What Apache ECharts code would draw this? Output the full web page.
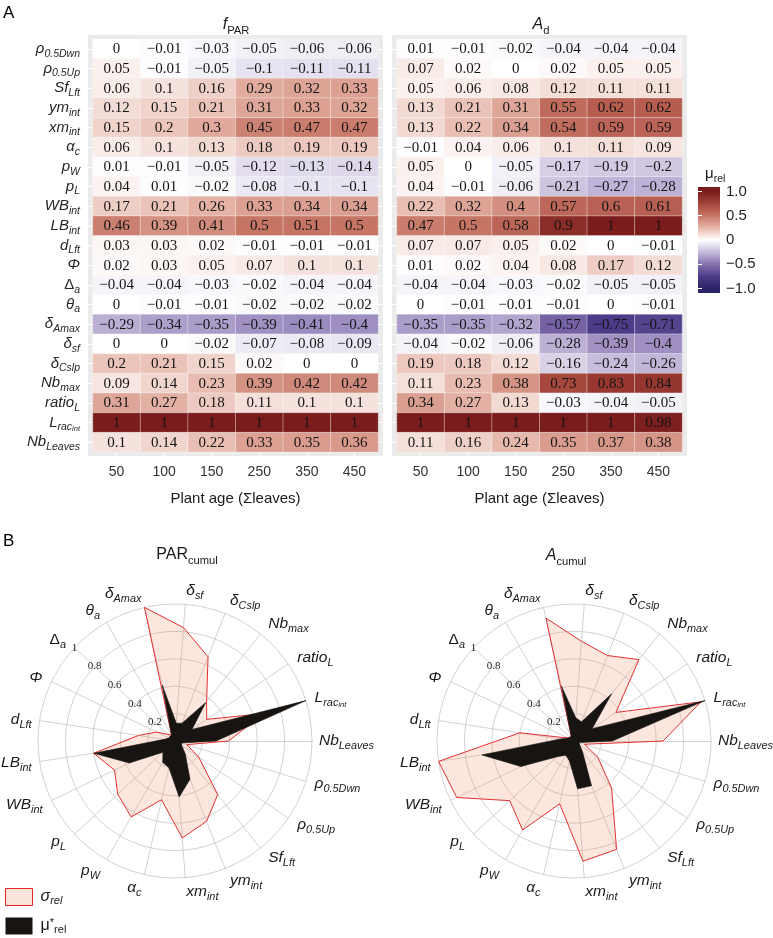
<!DOCTYPE html>
<html><head><meta charset="utf-8">
<script src="https://cdn.jsdelivr.net/npm/echarts@6/dist/echarts.min.js"></script>
<style>html,body{margin:0;padding:0;background:#fff}#c{width:773px;height:938px}</style>
</head><body><div id="c"></div>
<script>
// ---------- DATA ----------
const ages = ['50', '100', '150', '250', '350', '450'];
// heatmap rows, top to bottom
const params = [
  '{i|ρ}{si|0.5Dwn}', '{i|ρ}{si|0.5Up}', '{i|Sf}{si|Lft}', '{i|ym}{si|int}', '{i|xm}{si|int}',
  '{i|α}{si|c}', '{i|p}{si|W}', '{i|p}{si|L}', '{i|WB}{si|int}', '{i|LB}{si|int}',
  '{i|d}{si|Lft}', '{i|Φ}', '{u|Δ}{si|a}', '{i|θ}{si|a}', '{i|δ}{si|Amax}',
  '{i|δ}{si|sf}', '{i|δ}{si|Cslp}', '{i|Nb}{si|max}', '{i|ratio}{si|L}', '{i|L}{si|rac}{ssi|int}',
  '{i|Nb}{si|Leaves}'
];
const fparValues = [
  [0, -0.01, -0.03, -0.05, -0.06, -0.06],
  [0.05, -0.01, -0.05, -0.1, -0.11, -0.11],
  [0.06, 0.1, 0.16, 0.29, 0.32, 0.33],
  [0.12, 0.15, 0.21, 0.31, 0.33, 0.32],
  [0.15, 0.2, 0.3, 0.45, 0.47, 0.47],
  [0.06, 0.1, 0.13, 0.18, 0.19, 0.19],
  [0.01, -0.01, -0.05, -0.12, -0.13, -0.14],
  [0.04, 0.01, -0.02, -0.08, -0.1, -0.1],
  [0.17, 0.21, 0.26, 0.33, 0.34, 0.34],
  [0.46, 0.39, 0.41, 0.5, 0.51, 0.5],
  [0.03, 0.03, 0.02, -0.01, -0.01, -0.01],
  [0.02, 0.03, 0.05, 0.07, 0.1, 0.1],
  [-0.04, -0.04, -0.03, -0.02, -0.04, -0.04],
  [0, -0.01, -0.01, -0.02, -0.02, -0.02],
  [-0.29, -0.34, -0.35, -0.39, -0.41, -0.4],
  [0, 0, -0.02, -0.07, -0.08, -0.09],
  [0.2, 0.21, 0.15, 0.02, 0, 0],
  [0.09, 0.14, 0.23, 0.39, 0.42, 0.42],
  [0.31, 0.27, 0.18, 0.11, 0.1, 0.1],
  [1, 1, 1, 1, 1, 1],
  [0.1, 0.14, 0.22, 0.33, 0.35, 0.36]
];
const adValues = [
  [0.01, -0.01, -0.02, -0.04, -0.04, -0.04],
  [0.07, 0.02, 0, 0.02, 0.05, 0.05],
  [0.05, 0.06, 0.08, 0.12, 0.11, 0.11],
  [0.13, 0.21, 0.31, 0.55, 0.62, 0.62],
  [0.13, 0.22, 0.34, 0.54, 0.59, 0.59],
  [-0.01, 0.04, 0.06, 0.1, 0.11, 0.09],
  [0.05, 0, -0.05, -0.17, -0.19, -0.2],
  [0.04, -0.01, -0.06, -0.21, -0.27, -0.28],
  [0.22, 0.32, 0.4, 0.57, 0.6, 0.61],
  [0.47, 0.5, 0.58, 0.9, 1, 1],
  [0.07, 0.07, 0.05, 0.02, 0, -0.01],
  [0.01, 0.02, 0.04, 0.08, 0.17, 0.12],
  [-0.04, -0.04, -0.03, -0.02, -0.05, -0.05],
  [0, -0.01, -0.01, -0.01, 0, -0.01],
  [-0.35, -0.35, -0.32, -0.57, -0.75, -0.71],
  [-0.04, -0.02, -0.06, -0.28, -0.39, -0.4],
  [0.19, 0.18, 0.12, -0.16, -0.24, -0.26],
  [0.11, 0.23, 0.38, 0.73, 0.83, 0.84],
  [0.34, 0.27, 0.13, -0.03, -0.04, -0.05],
  [1, 1, 1, 1, 1, 0.98],
  [0.11, 0.16, 0.24, 0.35, 0.37, 0.38]
];
// radar values, counter-clockwise from east (Nb_Leaves, L_rac_int, ratio_L, ... , rho_0.5Dwn)
const sigmaPar = [0.39, 0.68, 0.28, 0.37, 0.66, 0.83, 1.0, 0.05, 0.07, 0.15, 0.27, 0.6, 0.49, 0.57, 0.64, 0.44, 0.71, 0.63, 0.5, 0.21, 0.09];
const muPar    = [0.3, 1.0, 0.15, 0.36, 0.14, 0.13, 0.42, 0.05, 0.05, 0.05, 0.08, 0.6, 0.37, 0.12, 0.18, 0.2, 0.41, 0.3, 0.12, 0.06, 0.05];
const sigmaA   = [0.65, 0.97, 0.37, 0.76, 0.67, 0.73, 0.92, 0.04, 0.04, 0.05, 0.4, 1.0, 0.95, 0.64, 0.75, 0.47, 0.88, 0.85, 0.44, 0.21, 0.08];
const muA      = [0.28, 1.0, 0.16, 0.44, 0.15, 0.17, 0.41, 0.04, 0.04, 0.05, 0.1, 0.68, 0.43, 0.17, 0.12, 0.15, 0.35, 0.35, 0.1, 0.05, 0.04];
const legendBreaks = [-1, -0.5, 0, 0.5, 1];
const paletteBreaks = [-1, -0.75, -0.5, -0.25, 0, 0.25, 0.5, 0.75, 1];
const paletteColors = ['#2b2466', '#4d3a88', '#8472b0', '#c4b9da', '#ffffff', '#e6b6a9', '#c67565', '#a4443a', '#7a1c1c'];

// ---------- STYLE HELPERS ----------
const SANS = '"Liberation Sans", Arial, sans-serif';
const SERIF = '"Liberation Serif", "Times New Roman", serif';
function rich(size, color, lh) {
  const sub = Math.round(size * 0.7 * 10) / 10;
  const L = lh || size + 6;
  const base = { fontFamily: SANS, color: color, fill: color };
  return {
    i: Object.assign({}, base, { fontStyle: 'italic', fontSize: size, lineHeight: L }),
    u: Object.assign({}, base, { fontStyle: 'normal', fontSize: size, lineHeight: L }),
    si: Object.assign({}, base, { fontStyle: 'italic', fontSize: sub, verticalAlign: 'bottom', lineHeight: size * 0.75 - (size + 6 - L) }),
    su: Object.assign({}, base, { fontStyle: 'normal', fontSize: sub, verticalAlign: 'bottom', lineHeight: size * 0.75 - (size + 6 - L) }),
    ssi: Object.assign({}, base, { fontStyle: 'italic', fontSize: size * 0.5, verticalAlign: 'bottom', lineHeight: 4 }),
    sp: Object.assign({}, base, { fontStyle: 'normal', fontSize: sub, verticalAlign: 'top', lineHeight: size * 0.7 - (size + 6 - L) })
  };
}
const fmt = v => String(v).replace('-', '\u2212');

// ---------- HEATMAP ----------
function renderCell(params, api) {
  const c = api.value(0), r = api.value(1), v = api.value(2);
  const a = api.coord([c - 0.5, r - 0.5]);
  const b = api.coord([c + 0.5, r + 0.5]);
  const x = Math.min(a[0], b[0]), y = Math.min(a[1], b[1]);
  const w = Math.abs(b[0] - a[0]), h = Math.abs(b[1] - a[1]);
  return {
    type: 'group',
    children: [
      { type: 'rect', shape: { x: x, y: y, width: w, height: h },
        style: { fill: api.visual('color'), stroke: 'rgba(255,255,255,0.45)', lineWidth: 0.6 } },
      { type: 'text', style: { text: fmt(v), x: x + w / 2, y: y + h / 2 + 0.5, align: 'center', verticalAlign: 'middle',
        fontSize: 15, fontFamily: SERIF, fill: '#141414' } }
    ]
  };
}
function heatData(values) {
  const d = [];
  values.forEach((row, r) => row.forEach((v, c) => d.push([c, r, v])));
  return d;
}
const colIdx = ages.map((_, i) => i);
const rowIdx = params.map((_, i) => i);

function heatX(grid) {
  return [{
    type: 'value', gridIndex: grid, min: -0.6, max: 5.6,
    axisLine: { show: false }, splitLine: { show: false },
    axisTick: { show: true, length: 4, lineStyle: { color: '#333' }, customValues: colIdx },
    axisLabel: { customValues: colIdx, formatter: v => ages[Math.round(v)], fontSize: 14, color: '#333', fontFamily: SANS, margin: 9 },
    name: 'Plant age (\u03A3leaves)', nameLocation: 'middle', nameGap: 35,
    nameTextStyle: { fontSize: 15, color: '#1a1a1a', fontFamily: SANS }
  }, {
    type: 'value', gridIndex: grid, min: -0.6, max: 5.6, position: 'top',
    axisLine: { show: false }, splitLine: { show: false }, axisLabel: { show: false },
    axisTick: { show: true, inside: true, length: 421, lineStyle: { color: '#fff', width: 1 }, customValues: colIdx }
  }];
}
function heatY(grid, labels) {
  return [{
    type: 'value', gridIndex: grid, min: -0.7, max: 20.7, inverse: true,
    axisLine: { show: false }, splitLine: { show: false },
    axisTick: { show: labels, length: 4, lineStyle: { color: '#333' }, customValues: rowIdx },
    axisLabel: { show: labels, customValues: rowIdx, formatter: v => params[Math.round(v)], margin: 8,
      rich: rich(15, '#262626') }
  }, {
    type: 'value', gridIndex: grid, min: -0.7, max: 20.7, inverse: true, position: 'right',
    axisLine: { show: false }, splitLine: { show: false }, axisLabel: { show: false },
    axisTick: { show: true, inside: true, length: 295, lineStyle: { color: '#fff', width: 1 }, customValues: rowIdx }
  }];
}

// ---------- RADAR ----------
const radarNames = params.slice().reverse();
function radarCfg(cx) {
  const n = radarNames.length;
  return {
    center: [cx, 741], radius: 137, startAngle: 0, shape: 'circle', splitNumber: 5,
    indicator: radarNames.map((nm, k) => {
      const ang = k * 2 * Math.PI / n;
      const ind = { name: nm, min: 0, max: 1, nameGap: 7 + 7 * Math.abs(Math.sin(ang)) };
      if (k === 8) {
        ind.axisLabel = { show: true, fontFamily: SERIF, fontSize: 11, color: '#222', margin: 0,
          align: 'center', verticalAlign: 'middle',
          formatter: v => (v <= 0 ? '' : (v >= 1 ? '1' : (+v).toFixed(1))) };
      }
      return ind;
    }),
    nameGap: 7,
    axisName: { color: '#1a1a1a', rich: rich(15.5, '#1a1a1a') },
    axisLine: { lineStyle: { color: '#c6c6c6', width: 0.8 } },
    splitLine: { lineStyle: { color: '#c6c6c6', width: 0.8 } },
    splitArea: { show: false },
    axisTick: { show: false },
    axisLabel: { show: false }
  };
}
function radarSeries(idx, sigma, mu) {
  return [{
    type: 'radar', radarIndex: idx, symbol: 'none', z: 2,
    lineStyle: { color: '#e3262a', width: 1 },
    areaStyle: { color: 'rgba(240,140,105,0.22)', opacity: 1 },
    itemStyle: { color: '#fbe5da' },
    data: [{ value: sigma, name: 'sigma' }]
  }, {
    type: 'radar', radarIndex: idx, symbol: 'none', z: 3,
    lineStyle: { color: '#171412', width: 0.6 },
    areaStyle: { color: '#171412', opacity: 1 },
    itemStyle: { color: '#171412' },
    data: [{ value: mu, name: 'mu' }]
  }];
}

// ---------- CHART ----------
const chart = echarts.init(document.getElementById('c'), null, { renderer: 'canvas' });
const R16 = rich(16, '#1a1a1a');
const option = {
  backgroundColor: '#fff',
  animation: false,
  grid: [
    { left: 88, top: 35, width: 295, height: 421, show: true, backgroundColor: '#ebebeb', borderWidth: 0 },
    { left: 392, top: 35, width: 295, height: 421, show: true, backgroundColor: '#ebebeb', borderWidth: 0 },
    { left: 698, top: 187, width: 22, height: 106, show: false }
  ],
  xAxis: [].concat(heatX(0), heatX(1), [{ type: 'value', gridIndex: 2, min: 0, max: 1, show: false }]),
  yAxis: [].concat(heatY(0, true), heatY(1, false), [{
    type: 'value', gridIndex: 2, min: -1.09, max: 1.09, position: 'right', z: 10,
    axisLine: { show: false }, splitLine: { show: false },
    axisTick: { show: true, inside: true, length: 4, lineStyle: { color: '#fff', width: 1 }, customValues: legendBreaks },
    axisLabel: { customValues: legendBreaks, margin: 6, fontSize: 15, color: '#1f1f1f', fontFamily: SANS,
      formatter: v => (Math.abs(v) < 1e-9 ? '0' : (v > 0 ? (+v).toFixed(1) : '\u2212' + (-v).toFixed(1))) }
  }, {
    type: 'value', gridIndex: 2, min: -1.09, max: 1.09, position: 'left', z: 10,
    axisLine: { show: false }, splitLine: { show: false }, axisLabel: { show: false },
    axisTick: { show: true, inside: true, length: 4, lineStyle: { color: '#fff', width: 1 }, customValues: legendBreaks }
  }]),
  visualMap: {
    type: 'continuous', show: false, min: -1, max: 1, dimension: 2, seriesIndex: [0, 1],
    inRange: { color: paletteColors }
  },
  radar: [radarCfg(175), radarCfg(574)],
  legend: {
    left: 5, top: 888, orient: 'vertical', padding: 0, itemWidth: 27, itemHeight: 17, itemGap: 11,
    height: 50, selectedMode: false,
    data: [
      { name: 'sigma', icon: 'rect', itemStyle: { color: '#fbe5da', borderColor: '#e3262a', borderWidth: 1 } },
      { name: 'mu', icon: 'rect', itemStyle: { color: '#171412', borderWidth: 0 } }
    ],
    formatter: n => (n === 'sigma' ? '{i|σ}{si|rel}' : '{u|μ}{sp|*}{su|rel}'),
    textStyle: { rich: rich(16, '#1a1a1a', 18), padding: [0, 0, 0, 3] }
  },
  graphic: [
    { type: 'text', left: 3, top: 5, style: { text: 'A', fontSize: 17, fontFamily: SANS, fill: '#000' } },
    { type: 'text', left: 3, top: 533, style: { text: 'B', fontSize: 17, fontFamily: SANS, fill: '#000' } },
    { type: 'text', x: 236, y: 25, style: { text: '{i|f}{su|PAR}', rich: R16, fill: '#1a1a1a', align: 'center', verticalAlign: 'middle' } },
    { type: 'text', x: 541, y: 25, style: { text: '{i|A}{su|d}', rich: R16, fill: '#1a1a1a', align: 'center', verticalAlign: 'middle' } },
    { type: 'text', x: 187, y: 555, style: { text: '{u|PAR}{su|cumul}', rich: R16, fill: '#1a1a1a', align: 'center', verticalAlign: 'middle' } },
    { type: 'text', x: 566, y: 556, style: { text: '{i|A}{su|cumul}', rich: R16, fill: '#1a1a1a', align: 'center', verticalAlign: 'middle' } },
    { type: 'text', x: 705, y: 174, style: { text: '{u|μ}{su|rel}', rich: rich(15, '#1a1a1a'), fill: '#1a1a1a', align: 'left', verticalAlign: 'middle' } }
  ],
  series: [].concat(
    [{ type: 'custom', xAxisIndex: 0, yAxisIndex: 0, data: heatData(fparValues), encode: { x: 0, y: 1 }, renderItem: renderCell, z: 3 },
     { type: 'custom', xAxisIndex: 2, yAxisIndex: 2, data: heatData(adValues), encode: { x: 0, y: 1 }, renderItem: renderCell, z: 3 },
     { type: 'custom', xAxisIndex: 4, yAxisIndex: 4, data: [[0.5, 0]], silent: true, z: 3,
       renderItem: function (p, api) {
         const cs = p.coordSys;
         const stops = [{ offset: 0, color: paletteColors[paletteColors.length - 1] }];
         paletteBreaks.forEach((v, k) => {
           const yy = api.coord([0, v])[1];
           stops.push({ offset: Math.min(1, Math.max(0, (yy - cs.y) / cs.height)), color: paletteColors[k] });
         });
         stops.push({ offset: 1, color: paletteColors[0] });
         stops.sort((s1, s2) => s1.offset - s2.offset);
         return { type: 'rect', shape: { x: cs.x, y: cs.y, width: cs.width, height: cs.height },
           style: { fill: new echarts.graphic.LinearGradient(0, 0, 0, 1, stops) } };
       } }],
    radarSeries(0, sigmaPar, muPar),
    radarSeries(1, sigmaA, muA)
  )
};
chart.setOption(option);
</script>
</body></html>
